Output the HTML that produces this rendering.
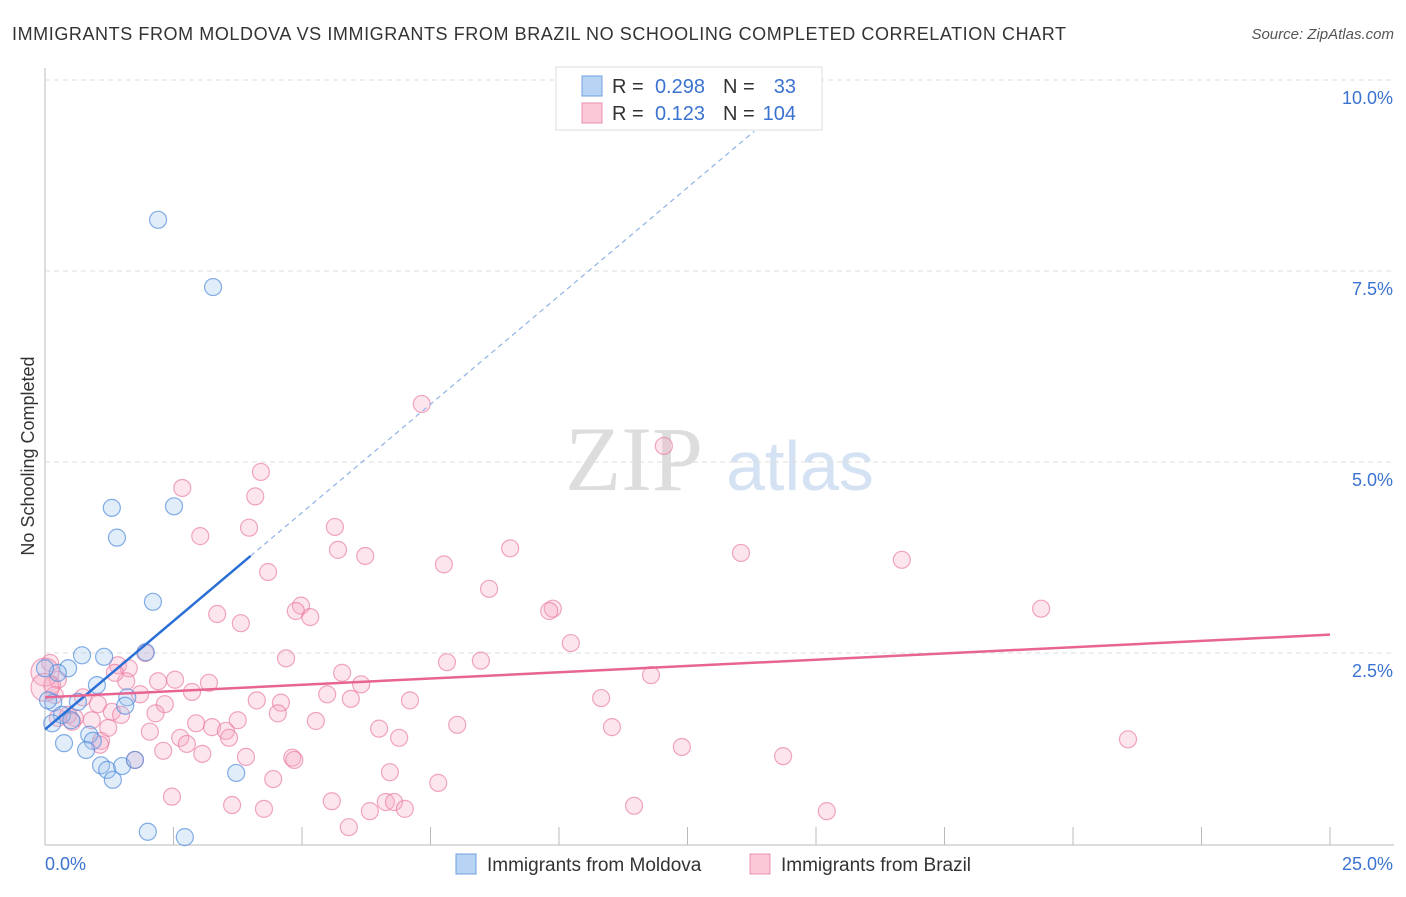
<!DOCTYPE html>
<html><head><meta charset="utf-8"><style>
body{margin:0;background:#fff;font-family:"Liberation Sans",sans-serif;}
</style></head><body>
<svg width="1406" height="892" xmlns="http://www.w3.org/2000/svg" id="svg" style="font-family:'Liberation Sans',sans-serif">
<text x="12" y="40" font-size="18" fill="#333" textLength="1054" lengthAdjust="spacing">IMMIGRANTS FROM MOLDOVA VS IMMIGRANTS FROM BRAZIL NO SCHOOLING COMPLETED CORRELATION CHART</text>
<text x="1394" y="39" font-size="15" fill="#555" font-style="italic" text-anchor="end">Source: ZipAtlas.com</text>
<text x="634" y="490" font-size="92" fill="#ddd" font-family="Liberation Serif" text-anchor="middle">ZIP</text>
<text x="800" y="490" font-size="70" fill="#d4e2f4" text-anchor="middle">atlas</text>
<text transform="translate(34,456) rotate(-90)" font-size="18" fill="#333" text-anchor="middle">No Schooling Completed</text>
<g id="grid"></g><g id="marks"></g><g id="lines"></g>
<g font-size="20">
<rect x="556" y="67" width="266" height="63" fill="#fff" stroke="#ddd"/>
<rect x="582" y="76" width="20" height="20" fill="#b9d3f5" stroke="#6fa0e0"/>
<rect x="582" y="103" width="20" height="20" fill="#fbc8d8" stroke="#ee8fb0"/>
<text x="612" y="93" fill="#333">R =</text><text x="705" y="93" fill="#3b73d0" text-anchor="end">0.298</text>
<text x="723" y="93" fill="#333">N =</text><text x="796" y="93" fill="#3b73d0" text-anchor="end">33</text>
<text x="612" y="120" fill="#333">R =</text><text x="705" y="120" fill="#3b73d0" text-anchor="end">0.123</text>
<text x="723" y="120" fill="#333">N =</text><text x="796" y="120" fill="#3b73d0" text-anchor="end">104</text>
</g>
<g>
<rect x="456" y="854" width="20" height="20" fill="#b9d3f5" stroke="#6fa0e0"/>
<text x="487" y="871" font-size="19" fill="#333">Immigrants from Moldova</text>
<rect x="750" y="854" width="20" height="20" fill="#fbc8d8" stroke="#ee8fb0"/>
<text x="781" y="871" font-size="19" fill="#333">Immigrants from Brazil</text>
</g>
</svg>
<script>
const xTicks=[0,2.5,5,7.5,10,12.5,15,17.5,20,22.5,25];
const yTicks=[2.5,5,7.5,10];
const yTickLabels=["2.5%","5.0%","7.5%","10.0%"];
const xEndLabels=["0.0%","25.0%"];
const moldovaX=[2.20,3.27,1.30,2.51,1.40,2.10,0.72,1.15,1.96,0.45,0.25,1.01,1.60,0.64,0.16,1.56,0.33,0.51,0.14,0.86,0.37,0.93,0.80,1.09,1.21,1.50,1.75,1.32,3.72,2.00,2.72,0.0,0.06];
const moldovaY=[8.17,7.29,4.40,4.42,4.01,3.17,2.47,2.45,2.51,2.30,2.24,2.08,1.92,1.86,1.85,1.81,1.69,1.62,1.58,1.43,1.32,1.35,1.23,1.03,0.97,1.02,1.10,0.84,0.93,0.16,0.09,2.30,1.88];
const brazilX=[7.33,12.04,4.20,2.67,4.09,3.97,5.64,3.02,9.05,13.54,5.70,6.23,16.67,7.76,4.34,8.64,9.88,9.81,19.38,4.98,4.88,5.16,3.35,3.81,10.23,1.95,4.69,7.82,8.48,1.42,1.63,5.78,11.79,2.53,2.20,3.19,6.15,1.58,1.36,2.86,5.49,1.85,10.82,0.74,4.12,4.59,5.95,7.10,1.03,2.33,1.30,2.15,4.53,1.48,0.58,3.75,5.27,2.94,3.25,8.02,11.03,3.52,6.50,2.04,3.58,6.89,2.63,1.09,2.76,21.07,12.39,2.30,3.06,3.91,4.81,4.85,14.36,1.75,6.71,4.44,7.65,2.47,5.58,3.64,4.26,6.63,6.79,7.00,11.46,15.21,6.32,5.91,0.10,0.14,0.25,0.19,0.45,0.53,0.91,1.23,0.25,1.07,0.0,0.0];
const brazilY=[5.76,5.21,4.87,4.66,4.55,4.14,4.15,4.03,3.87,3.81,3.85,3.77,3.72,3.66,3.56,3.34,3.08,3.05,3.08,3.12,3.05,2.97,3.01,2.89,2.63,2.50,2.43,2.38,2.40,2.34,2.30,2.24,2.21,2.15,2.13,2.11,2.09,2.13,2.24,1.99,1.96,1.96,1.91,1.92,1.88,1.85,1.90,1.88,1.83,1.83,1.73,1.71,1.71,1.69,1.65,1.62,1.61,1.58,1.53,1.56,1.53,1.48,1.51,1.47,1.39,1.39,1.39,1.35,1.31,1.37,1.27,1.22,1.18,1.14,1.13,1.10,1.15,1.10,0.94,0.85,0.80,0.62,0.56,0.51,0.46,0.55,0.55,0.46,0.50,0.43,0.43,0.22,2.37,2.08,2.15,1.95,1.69,1.60,1.62,1.52,1.65,1.30,2.25,2.05];
const moldovaTrendX=[0,4],moldovaTrendY=[1.50,3.77];
const moldovaDashX=[4,13.8],moldovaDashY=[3.77,9.33];
const brazilTrendX=[0,25],brazilTrendY=[1.92,2.74];
const X=v=>45+v*51.4, Y=v=>844-v*76.4;
const NS="http://www.w3.org/2000/svg";
function mk(tag,parent,attrs){const e=document.createElementNS(NS,tag);for(const k in attrs)e.setAttribute(k,attrs[k]);document.getElementById(parent).appendChild(e);return e;}
let ax=mk('line','grid',{x1:45,y1:68,x2:45,y2:845,stroke:'#bbb'});


let bx=mk('line','grid',{x1:45,y1:845,x2:1394,y2:845,stroke:'#bbb'});


yTicks.forEach((t,i)=>{
 const g=mk('line','grid',{x1:45,x2:1394,y1:Y(t),y2:Y(t),stroke:'#ddd','stroke-dasharray':'5,4'});
 
 
 const l=mk('text','grid',{x:1393,y:Y(t)+24,'font-size':18,fill:'#3b73d0','text-anchor':'end'});
 l.textContent=yTickLabels[i];
 
 
});
xTicks.forEach((t,i)=>{ if(i===0)return;
 const g=mk('line','grid',{x1:X(t),x2:X(t),y1:827,y2:845,stroke:'#bbb'});
 
 
});
const l0=mk('text','grid',{x:45,y:870,'font-size':18,fill:'#3b73d0'});l0.textContent=xEndLabels[0];


const l1=mk('text','grid',{x:1393,y:870,'font-size':18,fill:'#3b73d0','text-anchor':'end'});l1.textContent=xEndLabels[1];


brazilX.forEach((v,i)=>{
 const c=mk('circle','marks',{cx:X(v),cy:Y(brazilY[i]),r:i>=brazilX.length-2?14:8.5,fill:'rgba(247,170,195,0.3)',stroke:'rgba(232,120,160,0.65)','stroke-width':1.2});
 
 
});
moldovaX.forEach((v,i)=>{
 const c=mk('circle','marks',{cx:X(v),cy:Y(moldovaY[i]),r:8.5,fill:'rgba(160,195,240,0.3)',stroke:'rgba(80,140,220,0.7)','stroke-width':1.2});
 
 
});
const t1=mk('line','lines',{x1:X(moldovaTrendX[0]),y1:Y(moldovaTrendY[0]),x2:X(moldovaTrendX[1]),y2:Y(moldovaTrendY[1]),stroke:'#2a6fd6','stroke-width':2.5});


const t2=mk('line','lines',{x1:X(moldovaDashX[0]),y1:Y(moldovaDashY[0]),x2:X(moldovaDashX[1]),y2:Y(moldovaDashY[1]),stroke:'#8fb3e6','stroke-width':1.2,'stroke-dasharray':'5,4'});


const t3=mk('line','lines',{x1:X(brazilTrendX[0]),y1:Y(brazilTrendY[0]),x2:X(brazilTrendX[1]),y2:Y(brazilTrendY[1]),stroke:'#e76493','stroke-width':2.5});


</script>
</body></html>
